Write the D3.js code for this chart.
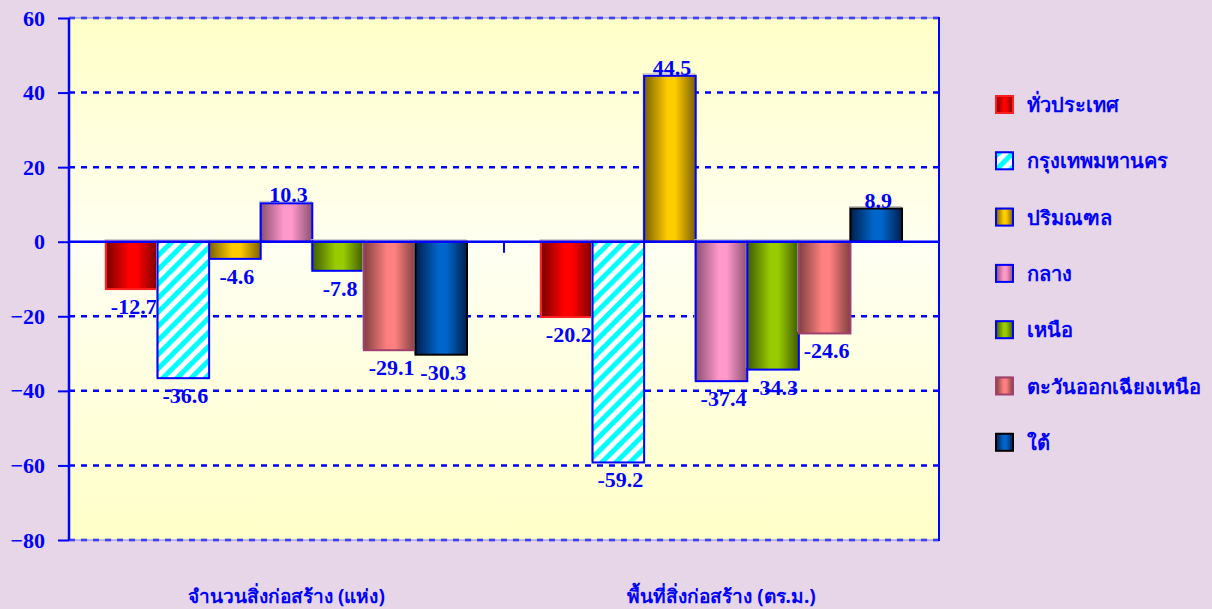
<!DOCTYPE html>
<html>
<head>
<meta charset="UTF-8"/>
<script src="https://cdnjs.cloudflare.com/ajax/libs/d3/7.8.5/d3.min.js"></script>
<style>
body { margin: 0; background-color: #e6d6e8; }
svg text { font-weight: bold; fill: #0000ff; }
.num { font-family: "Liberation Serif", "Times New Roman", serif; }
.thai { font-family: "Noto Sans", "DejaVu Sans", sans-serif; }
</style>
</head>
<body>
<div id="chart"></div>
<script>

// DATA
var categories = ["จำนวนสิ่งก่อสร้าง (แห่ง)", "พื้นที่สิ่งก่อสร้าง (ตร.ม.)"];
var regions = ["ทั่วประเทศ", "กรุงเทพมหานคร", "ปริมณฑล", "กลาง", "เหนือ", "ตะวันออกเฉียงเหนือ", "ใต้"];
var countValues = [-12.7, -36.6, -4.6, 10.3, -7.8, -29.1, -30.3];
var areaValues = [-20.2, -59.2, 44.5, -37.4, -34.3, -24.6, 8.9];
var yTicks = [60, 40, 20, 0, -20, -40, -60, -80];

// colours: [dark edge, bright middle, border]
var barColors = [
	["#7a0000", "#ff0000", "#ff2020"],
	null,
	["#7a6000", "#ffcc00", "#0000ff"],
	["#8a5070", "#ff99cc", "#0000ff"],
	["#3f5a00", "#99cc00", "#0000ff"],
	["#804040", "#ff8080", "#a04070"],
	["#001f4d", "#0066cc", "#000000"]
];

var W = 1212, H = 609;
var pLeft = 69, pRight = 939, pTop = 18, pBottom = 540;

var svg = d3.select("#chart").append("svg")
		.attr("width", W)
		.attr("height", H);

var defs = svg.append("defs");

// plot background gradient
var bg = defs.append("linearGradient").attr("id", "bg")
		.attr("x1", 0).attr("y1", 0).attr("x2", 0).attr("y2", 1);
bg.append("stop").attr("offset", "0%").attr("stop-color", "#ffffc8");
bg.append("stop").attr("offset", "45%").attr("stop-color", "#fffff2");
bg.append("stop").attr("offset", "100%").attr("stop-color", "#ffffc8");

// cylinder gradients
for (var i = 0; i < barColors.length; i++) {
	if (!barColors[i]) continue;
	var g = defs.append("linearGradient").attr("id", "bar" + i)
			.attr("x1", 0).attr("y1", 0).attr("x2", 1).attr("y2", 0);
	g.append("stop").attr("offset", "0%").attr("stop-color", barColors[i][0]);
	g.append("stop").attr("offset", "45%").attr("stop-color", barColors[i][1]);
	g.append("stop").attr("offset", "60%").attr("stop-color", barColors[i][1]);
	g.append("stop").attr("offset", "100%").attr("stop-color", barColors[i][0]);
}

// cyan hatch
var pat = defs.append("pattern").attr("id", "hatch")
		.attr("patternUnits", "userSpaceOnUse")
		.attr("width", 10).attr("height", 10)
		.attr("patternTransform", "rotate(45)");
pat.append("rect").attr("width", 10).attr("height", 10).attr("fill", "#ffffff");
pat.append("rect").attr("width", 5).attr("height", 10).attr("fill", "#00ffff");

function fillFor(i) { return i == 1 ? "url(#hatch)" : "url(#bar" + i + ")"; }
function strokeFor(i) { return i == 1 ? "#0000ff" : barColors[i][2]; }

// scales
var y = d3.scaleLinear().domain([-80, 60]).range([pBottom, pTop]);
var x0 = d3.scaleBand().domain(categories).range([pLeft, pRight])
		.paddingInner(0.17).paddingOuter(0.085);
var x1 = d3.scaleBand().domain(regions).range([0, x0.bandwidth()]);

// plot area
svg.append("rect")
	.attr("x", pLeft).attr("y", pTop)
	.attr("width", pRight - pLeft).attr("height", pBottom - pTop)
	.attr("fill", "url(#bg)");

// grid lines
svg.append("g").selectAll("line")
	.data(yTicks.filter(function(d) { return d != 0; }))
	.enter().append("line")
	.attr("x1", pLeft).attr("x2", pRight)
	.attr("y1", function(d) { return y(d); })
	.attr("y2", function(d) { return y(d); })
	.attr("stroke", "#0000ff")
	.attr("stroke-width", 2.5)
	.attr("stroke-dasharray", "6,6");

// frame
svg.append("rect")
	.attr("x", pLeft).attr("y", pTop)
	.attr("width", pRight - pLeft).attr("height", pBottom - pTop)
	.attr("fill", "none")
	.attr("stroke", "#8080ff")
	.attr("stroke-width", 1);
svg.append("line").attr("x1", pLeft).attr("x2", pLeft).attr("y1", pTop).attr("y2", pBottom)
	.attr("stroke", "#0000ff").attr("stroke-width", 2.5);
svg.append("line").attr("x1", pRight).attr("x2", pRight).attr("y1", pTop - 1).attr("y2", pBottom + 1)
	.attr("stroke", "#0000ff").attr("stroke-width", 2);

// y axis
var yAxis = svg.append("g")
	.attr("transform", "translate(" + pLeft + ",0)")
	.call(d3.axisLeft(y).tickValues(yTicks).tickSize(11).tickPadding(13));
yAxis.select(".domain").remove();
yAxis.selectAll("line").attr("stroke", "#0000ff").attr("stroke-width", 2);
yAxis.selectAll("text")
	.attr("class", "num")
	.attr("font-size", 22)
	.attr("fill", "#0000ff");

// bars
var data = [countValues, areaValues];
for (var c = 0; c < categories.length; c++) {
	for (var j = 0; j < regions.length; j++) {
		var v = data[c][j];
		var bx = x0(categories[c]) + x1(regions[j]);
		var y0 = Math.min(y(v), y(0)), h = Math.abs(y(v) - y(0));
		// shadow
		svg.append("rect")
			.attr("x", bx - 1).attr("y", y0 - 2)
			.attr("width", x1.bandwidth()).attr("height", h)
			.attr("fill", "none")
			.attr("stroke", "#c0c0c0").attr("stroke-width", 1);
		svg.append("rect")
			.attr("x", bx).attr("y", y0)
			.attr("width", x1.bandwidth()).attr("height", h)
			.attr("fill", fillFor(j))
			.attr("stroke", strokeFor(j))
			.attr("stroke-width", 2);
		svg.append("text")
			.attr("class", "num")
			.attr("x", bx + x1.bandwidth() / 2 + 2)
			.attr("y", v >= 0 ? y(v) - 1 : y(v) + 25)
			.attr("text-anchor", "middle")
			.attr("font-size", 22)
			.text(v.toFixed(1));
	}
}

// zero line and category divider tick
svg.append("line").attr("x1", pLeft).attr("x2", pRight).attr("y1", y(0)).attr("y2", y(0))
	.attr("stroke", "#0000ff").attr("stroke-width", 2.5);
svg.append("line")
	.attr("x1", pLeft + x0.step()).attr("x2", pLeft + x0.step())
	.attr("y1", y(0)).attr("y2", y(0) + 11)
	.attr("stroke", "#0000ff").attr("stroke-width", 2);

// category labels
svg.append("g").selectAll("text")
	.data(categories)
	.enter().append("text")
	.attr("class", "thai")
	.attr("x", function(d) { return x0(d) + x0.bandwidth() / 2; })
	.attr("y", 603)
	.attr("text-anchor", "middle")
	.attr("font-size", 19)
	.text(function(d) { return d; });

// legend
var legend = svg.append("g").selectAll("g")
	.data(regions)
	.enter().append("g")
	.attr("transform", function(d, i) { return "translate(996," + (96 + i * 56.3) + ")"; });
legend.append("rect")
	.attr("x", -1).attr("y", -1).attr("width", 17).attr("height", 17)
	.attr("fill", "#999999");
legend.append("rect")
	.attr("width", 17).attr("height", 17)
	.attr("fill", function(d, i) { return fillFor(i); })
	.attr("stroke", function(d, i) { return strokeFor(i); })
	.attr("stroke-width", 2);
legend.append("text")
	.attr("class", "thai")
	.attr("x", 31).attr("y", 16)
	.attr("font-size", 20)
	.text(function(d) { return d; });

</script>
</body>
</html>
